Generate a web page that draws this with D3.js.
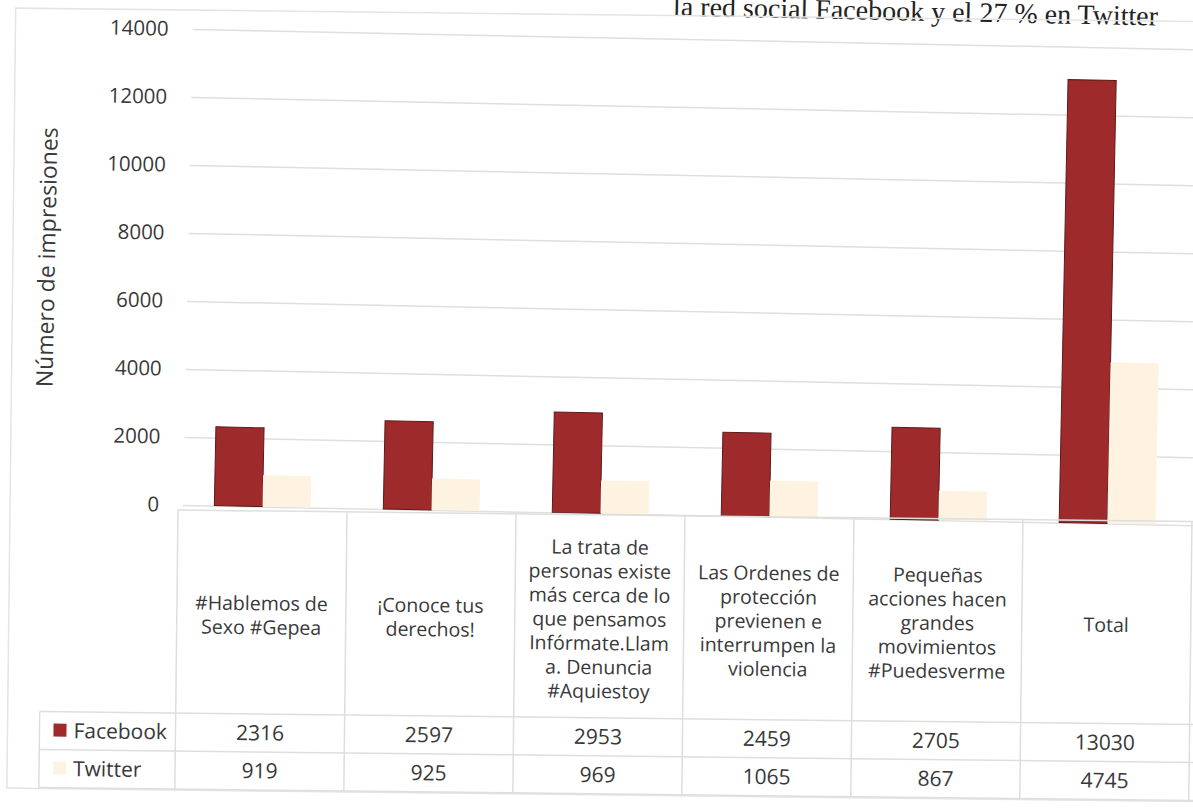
<!DOCTYPE html>
<html>
<head>
<meta charset="utf-8">
<script src="https://cdn.jsdelivr.net/npm/d3@7"></script>
<style>
  body { margin: 0; background: #fff; }
  text { font-family: "Open Sans", sans-serif; fill: #383838; }
</style>
</head>
<body>
<div id="chart"></div>
<script>
var categories = [
  ["#Hablemos de", "Sexo #Gepea"],
  ["¡Conoce tus", "derechos!"],
  ["La trata de", "personas existe", "más cerca de lo", "que pensamos", "Infórmate.Llam", "a. Denuncia", "#Aquiestoy"],
  ["Las Ordenes de", "protección", "previenen e", "interrumpen la", "violencia"],
  ["Pequeñas", "acciones hacen", "grandes", "movimientos", "#Puedesverme"],
  ["Total"]
];
var facebook = [2316, 2597, 2953, 2459, 2705, 13030];
var twitter = [919, 925, 969, 1065, 867, 4745];
var series = ["Facebook", "Twitter"];
var yTicks = [0, 2000, 4000, 6000, 8000, 10000, 12000, 14000];
var yTitle = "Número de impresiones";
var caption = "la red social Facebook y el 27 % en Twitter";

var width = 1193;
var height = 810;
var plotLeft = 178, plotRight = 1192;
var gridLeft = 183;
var zeroY = 505, topY = 29;
var headTop = 510, headBottom = 713, rowH = 38;
var legendLeft = 42;

var values = { Facebook: facebook, Twitter: twitter };

var color = d3.scaleOrdinal()
  .domain(series)
  .range(["#9E2A2B", "#FDF3E0"]);

var x = d3.scaleBand()
  .domain(d3.range(categories.length))
  .range([plotLeft, plotRight]);

var clusterW = x.bandwidth() * 0.57;
var x1 = d3.scaleBand()
  .domain(series)
  .range([0, clusterW]);

var y = d3.scaleLinear()
  .domain([0, 14000])
  .range([zeroY, topY]);

var svg = d3.select("#chart")
  .append("svg")
  .attr("width", width)
  .attr("height", height);

// the scan is a little tilted: plot more than the table
var page = svg.append("g").attr("transform", "rotate(1.15,185,505)");
var table = svg.append("g").attr("transform", "rotate(0.65,178,510)");

page.append("text")
  .attr("x", 1148)
  .attr("y", 6)
  .attr("text-anchor", "end")
  .style("font-family", "'Liberation Serif', serif")
  .style("font-size", "28px")
  .style("fill", "#222")
  .text(caption);

// grid + tick labels
var axis = page.append("g")
  .attr("transform", "translate(" + gridLeft + ",0)")
  .call(d3.axisLeft(y)
    .tickValues(yTicks)
    .tickFormat(d3.format("d"))
    .tickSize(-(plotRight + 20 - gridLeft))
    .tickPadding(24));
axis.select(".domain").remove();
axis.selectAll(".tick line").attr("stroke", "#dfdfdf").attr("stroke-width", 1.5);
axis.selectAll(".tick text")
  .style("font-size", "20.5px")
  .style("fill", "#383838");

page.append("text")
  .attr("transform", "translate(42,260) rotate(-90)")
  .attr("text-anchor", "middle")
  .attr("dy", "0.35em")
  .style("font-size", "23px")
  .text(yTitle);

// bars
var groups = page.selectAll(".cat")
  .data(categories)
  .enter()
  .append("g")
  .attr("class", "cat")
  .attr("transform", (d, i) => "translate(" + (x(i) + (x.bandwidth() - clusterW) / 2) + ",0)");

groups.selectAll("rect")
  .data((d, i) => series.map(s => ({ key: s, value: values[s][i] })))
  .enter()
  .append("rect")
  .attr("x", d => x1(d.key))
  .attr("y", d => y(d.value))
  .attr("width", x1.bandwidth())
  .attr("height", d => y(0) - y(d.value))
  .attr("fill", d => color(d.key))
  .attr("stroke", d => d.key == "Facebook" ? "#5e1a1b" : "none")
  .attr("stroke-width", 1);

// data table
var lineColor = "#dedede";
table.append("rect")
  .attr("x", 10).attr("y", 10)
  .attr("width", 1200).attr("height", 780)
  .attr("fill", "none")
  .attr("stroke", "#e4e4e4")
  .attr("stroke-width", 1.5);

var cols = d3.range(categories.length + 1).map(i => i < categories.length ? x(i) : plotRight);
table.selectAll(".vline")
  .data(cols)
  .enter()
  .append("line")
  .attr("x1", d => d).attr("x2", d => d)
  .attr("y1", headTop).attr("y2", headBottom + rowH * 2)
  .attr("stroke", lineColor).attr("stroke-width", 1.5);

table.append("line")
  .attr("x1", plotLeft).attr("x2", plotRight + 20)
  .attr("y1", headTop).attr("y2", headTop)
  .attr("stroke", lineColor).attr("stroke-width", 1.5);
[headBottom, headBottom + rowH, headBottom + rowH * 2].forEach(function (yy) {
  table.append("line")
    .attr("x1", legendLeft).attr("x2", plotRight + 20)
    .attr("y1", yy).attr("y2", yy)
    .attr("stroke", lineColor).attr("stroke-width", 1.5);
});
table.append("line")
  .attr("x1", legendLeft).attr("x2", legendLeft)
  .attr("y1", headBottom).attr("y2", headBottom + rowH * 2)
  .attr("stroke", lineColor).attr("stroke-width", 1.5);

var lineH = 24;
var headMid = (headTop + headBottom) / 2 + 3;
table.selectAll(".catlabel")
  .data(categories)
  .enter()
  .append("text")
  .attr("class", "catlabel")
  .attr("text-anchor", "middle")
  .style("font-size", "19.5px")
  .each(function (d, i) {
    var t = d3.select(this);
    var y0 = headMid - (d.length - 1) * lineH / 2;
    d.forEach(function (line, k) {
      t.append("tspan")
        .attr("x", x(i) + x.bandwidth() / 2)
        .attr("y", y0 + k * lineH)
        .attr("dy", "0.35em")
        .text(line);
    });
  });

series.forEach(function (s, r) {
  var cy = headBottom + rowH * r + rowH / 2;
  table.append("rect")
    .attr("x", 56).attr("y", cy - 7)
    .attr("width", 13).attr("height", 13)
    .attr("fill", color(s));
  table.append("text")
    .attr("x", 76).attr("y", cy)
    .attr("dy", "0.35em")
    .style("font-size", "21px")
    .text(s);
  table.selectAll(".val" + r)
    .data(values[s])
    .enter()
    .append("text")
    .attr("x", (d, i) => x(i) + x.bandwidth() / 2)
    .attr("y", cy)
    .attr("dy", "0.35em")
    .attr("text-anchor", "middle")
    .style("font-size", "21px")
    .text(d => d);
});
</script>
</body>
</html>
